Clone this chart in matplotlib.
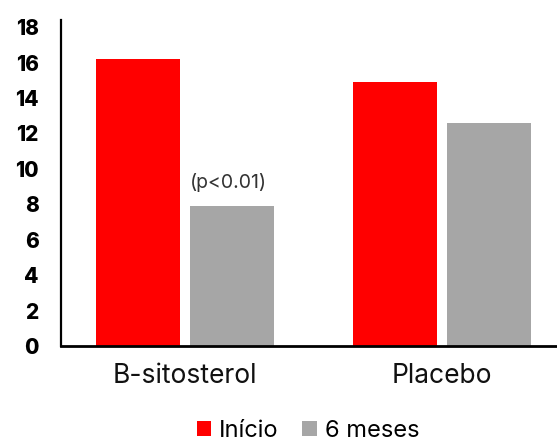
import matplotlib
matplotlib.use("Agg")
import matplotlib.pyplot as plt
import numpy as np

categories = ["B-sitosterol", "Placebo"]
series_names = ["Início", "6 meses"]
inicio = [16.2, 14.9]
seis_meses = [7.9, 12.6]
yticks = [0, 2, 4, 6, 8, 10, 12, 14, 16, 18]
annotation = "(p<0.01)"

plt.rcParams['font.family'] = ['Inter', 'DejaVu Sans']

fig = plt.figure(figsize=(5.57, 4.44), dpi=100)
ax = fig.add_axes([61/557, 1-346/444, 1-61/557, (346-20)/444])

x = np.arange(len(categories))
w = 0.327
off = 0.183
b1 = ax.bar(x - off, inicio, w, color="#FF0000", label=series_names[0])
b2 = ax.bar(x + off, seis_meses, w, color="#A6A6A6", label=series_names[1])

ax.set_xlim(-0.4825, 1.447)
ax.set_ylim(0, 18.4)
ax.set_yticks(yticks)
ax.set_yticklabels([str(t) for t in yticks], fontsize=15, fontweight='heavy')
ax.set_xticks(x)
ax.set_xticklabels(categories, fontsize=19, color="#111111")
ax.tick_params(axis='y', length=0, pad=16)
ax.tick_params(axis='x', length=0, pad=12)

for s in ["top", "right"]:
    ax.spines[s].set_visible(False)
ax.spines["left"].set_linewidth(1.6)
ax.spines["bottom"].set_linewidth(2.0)
ax.spines["left"].set_color("black")
ax.spines["bottom"].set_color("black")

ax.annotate(annotation, xy=(x[0] + off, seis_meses[0]), xytext=(-4, 14),
            textcoords='offset pixels', ha='center', va='bottom',
            fontsize=14, color="#333333")

fig.legend(handles=[b1, b2], labels=series_names, loc='lower center',
           bbox_to_anchor=(0.553, 0.004), bbox_transform=fig.transFigure,
           ncol=2, frameon=False, fontsize=17, handlelength=0.6,
           handleheight=0.6, handletextpad=0.35, columnspacing=1.0,
           borderpad=0, borderaxespad=0)

fig.savefig("out.png", dpi=100)
